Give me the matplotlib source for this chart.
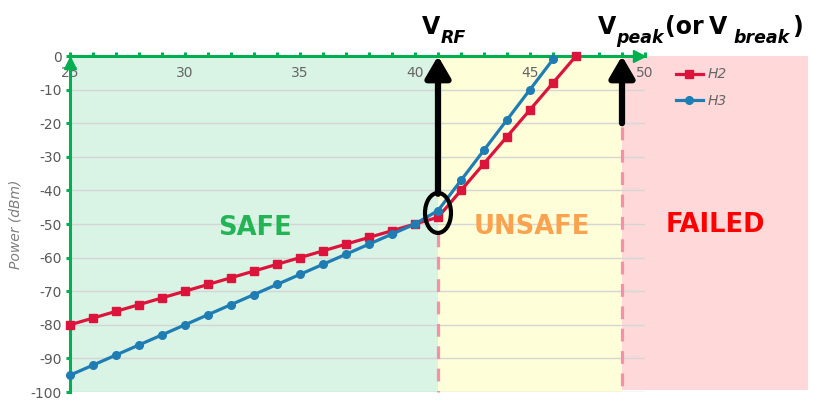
import numpy as np
import matplotlib
matplotlib.use("Agg")
import matplotlib.pyplot as plt
from matplotlib.patches import Rectangle, Ellipse

# data
x_h2 = [25, 26, 27, 28, 29, 30, 31, 32, 33, 34, 35, 36, 37, 38, 39, 40, 41, 42, 43, 44, 45, 46, 47]
h2 = [-80, -78, -76, -74, -72, -70, -68, -66, -64, -62, -60, -58, -56, -54, -52, -50, -48,
      -40, -32, -24, -16, -8, 0]
x_h3 = [25, 26, 27, 28, 29, 30, 31, 32, 33, 34, 35, 36, 37, 38, 39, 40, 41, 42, 43, 44, 45, 46]
h3 = [-95, -92, -89, -86, -83, -80, -77, -74, -71, -68, -65, -62, -59, -56, -53, -50, -46,
      -37, -28, -19, -10, -1]
x_ticks = [25, 30, 35, 40, 45, 50]
y_ticks = [0, -10, -20, -30, -40, -50, -60, -70, -80, -90, -100]
v_rf = 41
v_peak = 49
zone_labels = ["SAFE", "UNSAFE", "FAILED"]

green = '#00b050'
red = '#dc143c'
blue = '#1f7db4'
pinkline = '#f78fa9'

plt.rcParams['axes.unicode_minus'] = False

fig = plt.figure(figsize=(8.19, 4.13), dpi=100)
ax = fig.add_axes([70/819, 21/413, 575/819, 336/413])
ax.set_xlim(25, 50)
ax.set_ylim(-100, 0)

# zones
ax.axvspan(25, v_rf, color='#d9f3e5', zorder=0, lw=0)
ax.axvspan(v_rf, v_peak, color='#fefed9', zorder=0, lw=0)
ax.add_patch(Rectangle((v_peak, -99.4), 57.1 - v_peak, 99.4, color='#ffd9da',
                       zorder=0, lw=0, clip_on=False))

ax.set_axisbelow(True)
ax.yaxis.grid(True, color='#d5d5d5', lw=1)

ax.plot(x_h2, h2, color=red, lw=2.3, marker='s', ms=6, label='H2', zorder=3, clip_on=False)
ax.plot(x_h3, h3, color=blue, lw=2.3, marker='o', ms=5.5, label='H3', zorder=3, clip_on=False)

# dashed boundaries
ax.plot([v_rf, v_rf], [-53, -100], color=pinkline, lw=2.3, ls=(0, (4, 3)), zorder=2, clip_on=False)
ax.plot([v_peak, v_peak], [-21, -100], color=pinkline, lw=2.3, ls=(0, (4, 3)), zorder=2, clip_on=False)

# arrows
arrow = dict(arrowstyle='-|>,head_length=0.65,head_width=0.38', lw=4.5, color='black',
             mutation_scale=20, shrinkA=0, shrinkB=0)
ax.annotate('', xy=(v_rf, 0), xytext=(v_rf, -41), arrowprops=arrow, zorder=5, annotation_clip=False)
ax.annotate('', xy=(v_peak, 0), xytext=(v_peak, -20), arrowprops=arrow, zorder=5, annotation_clip=False)
ax.add_patch(Ellipse((v_rf, -46.7), 1.13, 11.9, fill=False, ec='black', lw=3, zorder=6))

# spines
for s in ['right', 'bottom']:
    ax.spines[s].set_visible(False)
for s in ['top', 'left']:
    ax.spines[s].set_color(green)
    ax.spines[s].set_linewidth(2.2)
ax.plot([49.75], [0], marker='>', ms=9, color=green, clip_on=False, zorder=7)
ax.plot([25], [-2.2], marker='^', ms=9, color=green, clip_on=False, zorder=7)

ax.xaxis.set_ticks_position('top')
ax.set_xticks(x_ticks)
ax.set_xticks(np.arange(25, 51, 1), minor=True)
ax.tick_params(axis='x', which='both', direction='out', length=3, width=2.2, color=green,
               labelsize=10, labelcolor='#666666', pad=-20)
ax.set_yticks(y_ticks)
ax.tick_params(axis='y', direction='out', length=3, width=2.2, color=green,
               labelsize=10, labelcolor='#595959', pad=3)
ax.set_ylabel('Power (dBm)', fontsize=10, style='italic', color='#7f7f7f', labelpad=6)

# zone texts
ax.text(33.04, -51.2, zone_labels[0], color='#22b455', fontsize=18.5, weight='bold',
        ha='center', va='center')
ax.text(45.09, -50.9, zone_labels[1], color='#fba24f', fontsize=18.5, weight='bold',
        ha='center', va='center')
ax.text(53.04, -50.3, zone_labels[2], color='#ff0000', fontsize=18.5, weight='bold',
        ha='center', va='center', clip_on=False)

# V_RF / V_peak headings, built from pieces
big = dict(fontsize=17, weight='bold', va='baseline', ha='left')
sub = dict(fontsize=12.5, weight='bold', style='italic', va='baseline', ha='left')
def px(x, y):
    return x / 819, 1 - y / 413
fig.text(*px(422, 34), 'V', **big)
fig.text(*px(441, 43), 'RF', **sub)
fig.text(*px(598, 34), 'V', **big)
fig.text(*px(616, 43), 'peak', **sub)
fig.text(*px(665, 34), '(or', **big)
fig.text(*px(709, 34), 'V', **big)
fig.text(*px(733, 43), 'break', **sub)
fig.text(*px(792, 34), ')', **big)

leg = ax.legend(loc='upper left', bbox_to_anchor=(663/819, 1 - 55/413),
                bbox_transform=fig.transFigure, frameon=False, handlelength=2.0,
                handletextpad=0.3, labelspacing=0.9, prop={'style': 'italic', 'size': 10})
for t in leg.get_texts():
    t.set_color('#666666')

fig.savefig('out.png', dpi=100)
